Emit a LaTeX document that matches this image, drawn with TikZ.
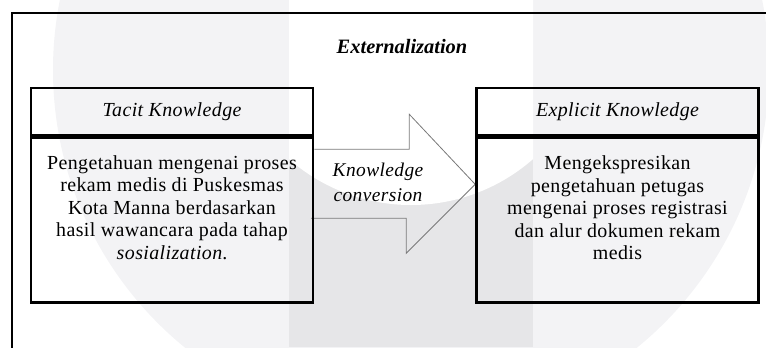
\documentclass[tikz,border=0pt]{standalone}
\usepackage{fontspec}
\setmainfont{Liberation Serif}
\newfontfamily\spacedfont[LetterSpace=2]{Liberation Serif}
\usetikzlibrary{calc}
\definecolor{wmlight}{HTML}{F3F3F5}
\definecolor{wmdark}{HTML}{E6E6E8}
\definecolor{arrowgray}{HTML}{7A7A7A}

\begin{document}
\begin{tikzpicture}[x=1bp,y=-1bp,
  frameline/.style={line width=2bp},
  kbox/.style={draw, line width=2.6bp, minimum width=282bp, inner sep=0pt},
  headbox/.style={kbox, minimum height=47bp},
  bodybox/.style={kbox, minimum height=165bp},
  bodytext/.style={align=center, inner sep=0pt, font=\spacedfont\fontsize{20}{22.5}\selectfont},
  headtext/.style={inner sep=0pt, font=\spacedfont\itshape\fontsize{20}{22}\selectfont},
  convtext/.style={align=center, inner sep=0pt, font=\spacedfont\itshape\fontsize{19.5}{24.5}\selectfont},
  titletext/.style={inner sep=0pt, font=\bfseries\itshape\fontsize{20.5}{22}\selectfont},
  blockarrow/.style={draw=arrowgray, line width=0.8bp, line join=miter}
]
\useasboundingbox (0,0) rectangle (766,347);

% faint emblem in the background
\begin{scope}
  \clip (0,0) rectangle (766,347);
  \fill[wmlight] (411,70) circle (358);
  \begin{scope}
    \clip (411,70) circle (358);
    \fill[wmdark] (289,0) rectangle (533,347);
    \clip (289,0) rectangle (533,347);
    \fill[white] (411,20) circle (185);
  \end{scope}
\end{scope}

% outer frame (runs off the page to the right and bottom)
\draw[frameline] (770,13) -- (12,13) -- (12,351);

% title
\node[titletext] (title) at (402,47) {Externalization};

% tacit knowledge box
\node[headbox] (tacitHead) at (172,111.5) {};
\node[bodybox, anchor=north] (tacitBody) at (tacitHead.south) {};

% explicit knowledge box
\node[headbox] (explicitHead) at (617.5,111.5) {};
\node[bodybox, anchor=north] (explicitBody) at (explicitHead.south) {};

% block arrow between the boxes
\coordinate (tail) at ($(tacitBody.north east)+(0,13)$);
\coordinate (tip) at ($(explicitBody.north west)+(0,48)$);
\draw[blockarrow] (tail) -- ++(95,0) -- ++(0,-35) -- (tip) -- ++(-69,69)
  -- ++(0,-35) -- ++(-95,0);

% redraw box outlines over the arrow ends
\node[headbox] at (tacitHead.center) {};
\node[bodybox] at (tacitBody.center) {};
\node[headbox] at (explicitHead.center) {};
\node[bodybox] at (explicitBody.center) {};

% texts
\node[headtext] (tacitTitle) at (tacitHead.center) {Tacit Knowledge};
\node[headtext] (explicitTitle) at (explicitHead.center) {Explicit Knowledge};
\node[bodytext] (tacitText) at (172,207.5)
  {Pengetahuan mengenai proses\\rekam medis di Puskesmas\\Kota Manna berdasarkan\\hasil wawancara pada tahap\\\textit{sosialization}.};
\node[bodytext] (explicitText) at (617.5,208)
  {Mengekspresikan\\pengetahuan petugas\\mengenai proses registrasi\\dan alur dokumen rekam\\medis};
\node[convtext] (convLabel) at (378,182.5) {Knowledge\\conversion};
\end{tikzpicture}
\end{document}
